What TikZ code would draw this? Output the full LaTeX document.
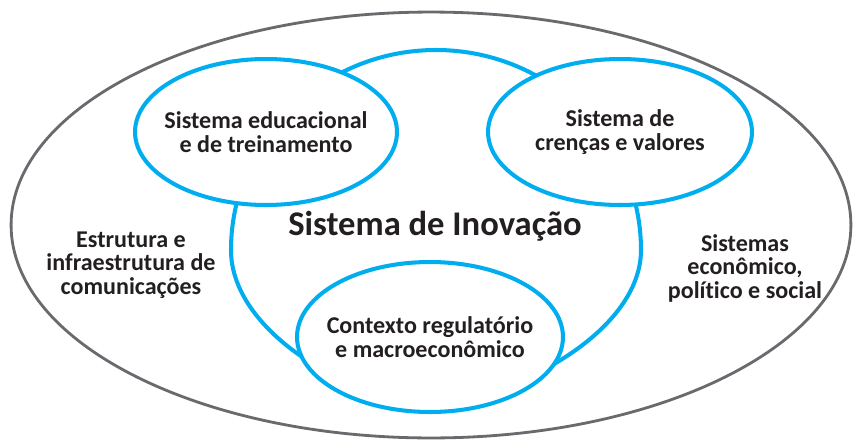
\documentclass[tikz,border=0pt]{standalone}
\usepackage{fontspec}
\setmainfont{Carlito}[Ligatures=NoCommon]
\usepackage{tikz}
\usetikzlibrary{shapes,calc,positioning}
\definecolor{azul}{RGB}{0,174,239}
\definecolor{grisOscuro}{RGB}{105,105,110}
\definecolor{tinta}{RGB}{35,31,32}
\tikzstyle{contorno}=[ellipse, draw=grisOscuro, line width=1.6pt,
                      inner sep=0pt, outer sep=0pt]
\tikzstyle{sistema} =[ellipse, draw=azul, fill=white, line width=2.3pt,
                      inner sep=0pt, outer sep=0pt]
\tikzstyle{rotulo}  =[align=center, text=tinta, inner sep=0pt,
                      font=\bfseries\fontsize{13.7}{13.4}\selectfont]
\tikzstyle{titulo}  =[align=center, text=tinta, inner sep=0pt,
                      font=\bfseries\fontsize{19.7}{22}\selectfont]

\begin{document}
\begin{tikzpicture}[x=0.02cm,y=-0.02cm]
    \useasboundingbox (0,0) rectangle (853,440);

        \begin{scope}[]
            \draw (431,225) node (ambiente) [contorno,minimum width=16.8cm,minimum height=8.52cm] {};
            \draw[azul,line width=2.3pt,fill=white] (430,405)
                .. controls (345,397) and (231,330) .. (231,250)
                .. controls (231,140) and (323,50) .. (436,50)
                .. controls (549,50) and (641,140) .. (641,250)
                .. controls (641,330) and (520,397) .. (430,405) -- cycle;
        \end{scope}

        \begin{scope}[]
            \draw (266,132) node (educacional) [sistema,minimum width=5.24cm,minimum height=2.92cm] {};
            \draw (620,132) node (crencas) [sistema,minimum width=5.28cm,minimum height=2.92cm] {};
            \draw (430,337) node (contexto) [sistema,minimum width=5.32cm,minimum height=3cm] {};
        \end{scope}

        \begin{scope}[]
            \draw (educacional.center) node (tEducacional) [rotulo] {Sistema educacional\\e de treinamento};
            \draw (crencas.center) node (tCrencas) [rotulo] {Sistema de\\crenças e valores};
            \draw (contexto.center) node (tContexto) [rotulo] {Contexto regulatório\\e macroeconômico};
            \draw (435,226) node (inovacao) [titulo] {Sistema de Inovação};
            \draw (131,265) node (estrutura) [rotulo] {Estrutura e\\infraestrutura de\\comunicações};
            \draw (745,268) node (sistemas) [rotulo] {Sistemas\\econômico,\\político e social};
        \end{scope}

\end{tikzpicture}
\end{document}
